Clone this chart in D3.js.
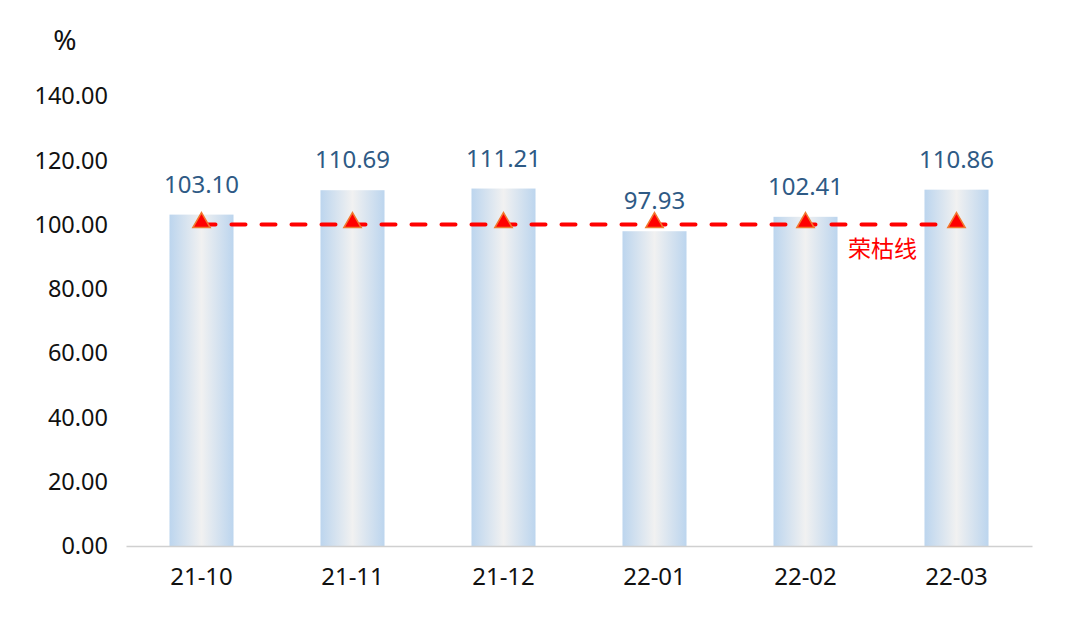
<!DOCTYPE html>
<html>
<head>
<meta charset="utf-8">
<script src="https://cdn.jsdelivr.net/npm/d3@7/dist/d3.min.js"></script>
<style>
  body { margin: 0; background: #fff; }
  svg { font-family: "Noto Sans", "Noto Sans CJK SC", sans-serif; }
</style>
</head>
<body>
<svg class="chart" width="1080" height="618"></svg>
<script>
var months = ["21-10", "21-11", "21-12", "22-01", "22-02", "22-03"];
var values = [103.10, 110.69, 111.21, 97.93, 102.41, 110.86];
var baseline = [100, 100, 100, 100, 100, 100];
var yTicks = [0, 20, 40, 60, 80, 100, 120, 140];

var svg = d3.select(".chart"),
    margin = {top: 96, right: 48, bottom: 72, left: 126},
    width = +svg.attr("width") - margin.left - margin.right,
    height = +svg.attr("height") - margin.top - margin.bottom;

var x = d3.scaleBand().domain(months).range([0, width]).paddingInner(0.576).paddingOuter(0.288);
var y = d3.scaleLinear().domain([0, 140]).range([height, 0]);

var defs = svg.append("defs");
var grad = defs.append("linearGradient").attr("id", "barGrad")
    .attr("x1", "0%").attr("x2", "100%").attr("y1", "0%").attr("y2", "0%");
grad.append("stop").attr("offset", "0%").attr("stop-color", "#bcd5ee");
grad.append("stop").attr("offset", "50%").attr("stop-color", "#f1f1f1");
grad.append("stop").attr("offset", "100%").attr("stop-color", "#bcd5ee");

var g = svg.append("g")
    .attr("transform", "translate(" + margin.left + "," + margin.top + ")");

// y axis labels (no line)
g.selectAll(".ytick")
    .data(yTicks)
  .enter().append("text")
    .attr("class", "ytick")
    .attr("x", -18)
    .attr("y", function(d) { return y(d); })
    .attr("dy", "0.35em")
    .style("text-anchor", "end")
    .style("font-size", "23.5px")
    .style("fill", "#111")
    .text(function(d) { return d.toFixed(2); });

svg.append("text")
    .attr("x", 65)
    .attr("y", 40)
    .attr("dy", "0.35em")
    .style("text-anchor", "middle")
    .style("font-size", "28px")
    .style("fill", "#111")
    .text("%");

// bars
g.selectAll(".bar")
    .data(values)
  .enter().append("rect")
    .attr("class", "bar")
    .attr("x", function(d, i) { return x(months[i]); })
    .attr("width", x.bandwidth())
    .attr("y", function(d) { return y(d); })
    .attr("height", function(d) { return height - y(d); })
    .attr("fill", "url(#barGrad)");

// x axis
var xAxis = g.append("g")
    .attr("transform", "translate(0," + height + ")")
    .call(d3.axisBottom(x).tickSize(0).tickPadding(22));
xAxis.select(".domain").attr("stroke", "#d0d0d0").attr("stroke-width", 1.5);
xAxis.selectAll("text").style("font-size", "24px").style("fill", "#111")
    .style("font-family", "\"Noto Sans\", sans-serif");

// value labels
g.selectAll(".val")
    .data(values)
  .enter().append("text")
    .attr("class", "val")
    .attr("x", function(d, i) { return x(months[i]) + x.bandwidth() / 2; })
    .attr("y", function(d) { return y(d) - 22; })
    .style("text-anchor", "middle")
    .style("font-size", "24px")
    .style("fill", "#2e5a85")
    .text(function(d) { return d.toFixed(2); });

// baseline dashed line
var line = d3.line()
    .x(function(d, i) { return x(months[i]) + x.bandwidth() / 2; })
    .y(function(d) { return y(d); });

g.append("path")
    .datum(baseline)
    .attr("d", line)
    .attr("fill", "none")
    .attr("stroke", "#ff0000")
    .attr("stroke-width", 4)
    .attr("stroke-linecap", "round")
    .attr("stroke-dasharray", "14,16");

g.selectAll(".tri")
    .data(baseline)
  .enter().append("path")
    .attr("class", "tri")
    .attr("transform", function(d, i) {
      return "translate(" + (x(months[i]) + x.bandwidth() / 2) + "," + (y(d) - 2) + ")";
    })
    .attr("d", d3.symbol().type(d3.symbolTriangle).size(130))
    .attr("fill", "#ff0000")
    .attr("stroke", "#f07a30")
    .attr("stroke-width", 1.5);

g.append("text")
    .attr("x", x("22-02") + x.bandwidth() / 2 + 77)
    .attr("y", y(100) + 24)
    .attr("dy", "0.35em")
    .style("text-anchor", "middle")
    .style("font-size", "23px")
    .style("fill", "#ff0000")
    .style("font-family", "\"Noto Sans CJK SC\", sans-serif")
    .text("荣枯线");
</script>
</body>
</html>
